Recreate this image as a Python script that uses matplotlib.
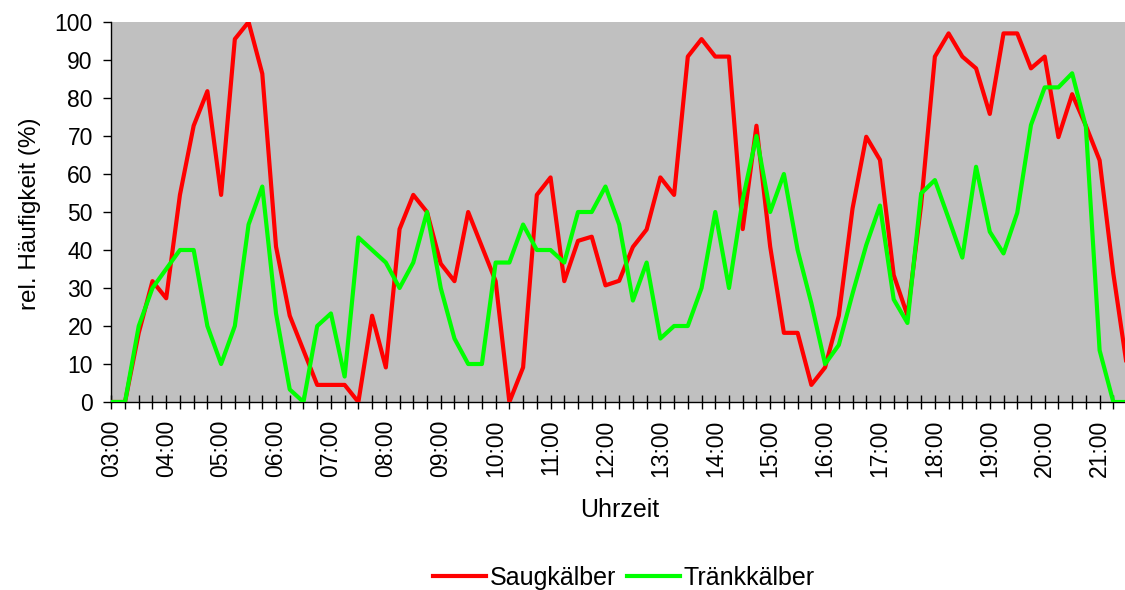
import numpy as np
import matplotlib.pyplot as plt

plt.rcParams['font.family'] = ['Liberation Sans', 'DejaVu Sans']

# relative frequency (%) per 15-minute interval, starting 03:00
saugkaelber = [0, 0, 18.2, 31.8, 27.3, 54.5, 72.7, 81.8, 54.5, 95.5,
               100, 86.4, 40.9, 22.7, 13.6, 4.5, 4.5, 4.5, 0, 22.7,
               9.1, 45.5, 54.5, 50, 36.4, 31.8, 50, 40.9, 31.8, 0,
               9.1, 54.5, 59.1, 31.8, 42.4, 43.5, 30.7, 31.9, 40.8, 45.4,
               59.1, 54.5, 90.9, 95.5, 90.9, 90.9, 45.5, 72.7, 40.9, 18.2,
               18.2, 4.5, 9.1, 22.7, 50.9, 69.8, 63.7, 33.4, 22.8, 52,
               90.9, 97, 90.9, 87.8, 75.8, 97, 97, 87.8, 90.9, 69.7,
               81, 72.7, 63.6, 33.8, 9.1]
traenkkaelber = [0, 0, 20, 30, 35, 40, 40, 20, 10, 20,
                 46.7, 56.7, 23.3, 3.3, 0, 20, 23.3, 6.7, 43.3, 40,
                 36.7, 30, 36.7, 50, 30, 16.7, 10, 10, 36.7, 36.7,
                 46.7, 40, 40, 36.7, 50, 50, 56.7, 46.7, 26.7, 36.7,
                 16.7, 20, 20, 30, 50, 30, 53.3, 70, 50, 60,
                 40, 26, 10, 15, 28.5, 41.3, 51.7, 27, 20.8, 54.9,
                 58.4, 48.3, 38, 61.9, 44.8, 39.1, 49.8, 72.9, 82.8, 82.8,
                 86.5, 72.4, 13.6, 0, 0]
hour_labels = ['03:00', '04:00', '05:00', '06:00', '07:00', '08:00', '09:00',
               '10:00', '11:00', '12:00', '13:00', '14:00', '15:00', '16:00',
               '17:00', '18:00', '19:00', '20:00', '21:00']

x = np.arange(len(saugkaelber))

fig = plt.figure(figsize=(11.25, 5.9), dpi=100)
ax = fig.add_axes([111.3 / 1125, 188 / 590, (1125 - 111.3) / 1125, 380 / 590])
ax.set_facecolor('#C0C0C0')

ax.plot(x, saugkaelber, color='#FF0000', lw=3, label='Saugkälber', zorder=3)
ax.plot(x, traenkkaelber, color='#00FF00', lw=3, label='Tränkkälber', zorder=4)

ax.set_xlim(0, 73.85)
ax.set_ylim(0, 100)
ax.set_yticks(np.arange(0, 101, 10))

# tick every 15 minutes, label every hour
ticks = np.arange(0, 74)
labels = ['' for t in ticks]
for i, lab in enumerate(hour_labels):
    labels[i * 4] = lab
ax.set_xticks(ticks)
ax.set_xticklabels(labels, rotation=90)

ax.tick_params(axis='x', direction='inout', length=9.4, width=1, pad=8, labelsize=16.5)
ax.tick_params(axis='y', direction='out', length=5.8, width=1, pad=7.5, labelsize=16.5)

for s in ['top', 'right']:
    ax.spines[s].set_visible(False)
for s in ['left', 'bottom']:
    ax.spines[s].set_color('black')
    ax.spines[s].set_linewidth(1)

fig.text(30 / 1125, 1 - 214 / 590, 'rel. Häufigkeit (%)', rotation=90,
         ha='center', va='center', fontsize=17.5)
fig.text(620 / 1125, 1 - 510 / 590, 'Uhrzeit', ha='center', va='center', fontsize=18)

fig.legend(loc='center', bbox_to_anchor=(624 / 1125, 1 - 578 / 590), ncol=2,
           frameon=False, fontsize=18, handlelength=2.1, handletextpad=0.15,
           columnspacing=0.45, borderpad=0)

plt.savefig('out.png', dpi=100)
